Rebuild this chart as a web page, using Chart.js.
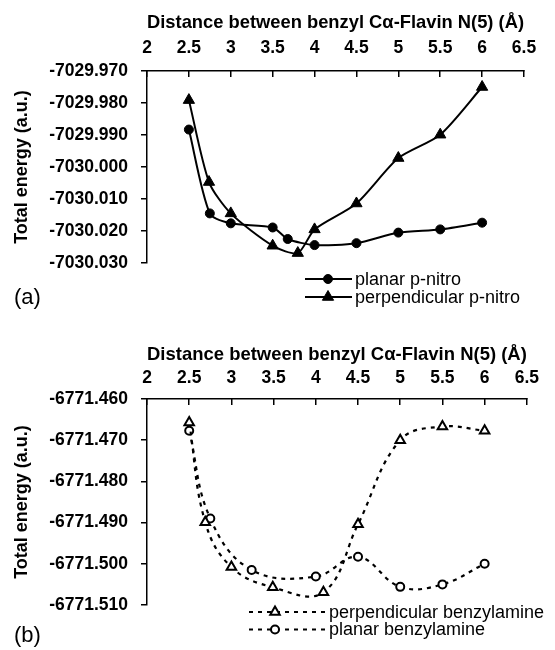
<!DOCTYPE html>
<html>
<head>
<meta charset="utf-8">
<script src="https://cdn.jsdelivr.net/npm/chart.js@4.4.1/dist/chart.umd.min.js"></script>
<style>
  body { margin: 0; background: #fff; }
  .wrap { position: absolute; left: 0; width: 555px; }
  .tag { position: absolute; left: 14px; font: 22px "Liberation Sans", Arial, sans-serif; color: #000; }
</style>
</head>
<body>
<div class="wrap" style="top:0;height:310px"><canvas id="topChart"></canvas></div>
<div class="wrap" style="top:310px;height:340px"><canvas id="bottomChart"></canvas></div>
<div class="tag" style="top:284px">(a)</div>
<div class="tag" style="top:622px">(b)</div>
<script>
// x axis ticks (distance, Å)
const xTicks = [2, 2.5, 3, 3.5, 4, 4.5, 5, 5.5, 6, 6.5];

// (a) p-nitro
const yTicksA = [-7029.97, -7029.98, -7029.99, -7030.0, -7030.01, -7030.02, -7030.03];
const distPlanarNitro = [2.5, 2.75, 3.0, 3.5, 3.68, 4.0, 4.5, 5.0, 5.5, 6.0];
const energyPlanarNitro = [-7029.9883, -7030.0145, -7030.0176, -7030.0189, -7030.0225, -7030.0244, -7030.0238, -7030.0205, -7030.0195, -7030.0174];
const distPerpNitro = [2.5, 2.74, 3.0, 3.5, 3.8, 4.0, 4.5, 5.0, 5.5, 6.0];
const energyPerpNitro = [-7029.9791, -7030.0047, -7030.0145, -7030.0246, -7030.0269, -7030.0195, -7030.0114, -7029.9972, -7029.9899, -7029.975];

// (b) benzylamine
const yTicksB = [-6771.46, -6771.47, -6771.48, -6771.49, -6771.5, -6771.51];
const distPerpAmine = [2.5, 2.69, 3.0, 3.49, 4.09, 4.5, 5.0, 5.5, 6.0];
const energyPerpAmine = [-6771.4657, -6771.4899, -6771.5008, -6771.5057, -6771.5069, -6771.4904, -6771.47, -6771.4667, -6771.4677];
const distPlanarAmine = [2.5, 2.75, 3.24, 4.0, 4.5, 5.0, 5.5, 6.0];
const energyPlanarAmine = [-6771.4677, -6771.489, -6771.5015, -6771.5031, -6771.4983, -6771.5056, -6771.505, -6771.5];

const FAMILY = '"Liberation Sans", Arial, Helvetica, sans-serif';
const xTitle = 'Distance between benzyl C\u03B1-Flavin N(5) (\u00C5)';
const yTitle = 'Total energy (a.u.)';

const pts = (xs, ys) => xs.map((x, i) => ({ x: x, y: ys[i] }));

// legend drawn under the plot, line + marker + label
const cornerLegend = {
  id: 'cornerLegend',
  afterDraw(chart, args, o) {
    const ctx = chart.ctx;
    ctx.save();
    chart.data.datasets.forEach((ds, i) => {
      const y = o.y + i * o.dy;
      ctx.strokeStyle = '#000';
      ctx.lineWidth = ds.borderWidth;
      ctx.setLineDash(ds.borderDash || []);
      ctx.beginPath();
      ctx.moveTo(o.x0, y);
      ctx.lineTo(o.x1, y);
      ctx.stroke();
      ctx.setLineDash([]);
      drawMarker(ctx, ds.pointStyle, o.xm, y, ds.pointRadius, ds.pointBackgroundColor, ds.pointBorderWidth);
      ctx.fillStyle = '#000';
      ctx.font = '18px ' + FAMILY;
      ctx.textBaseline = 'middle';
      ctx.textAlign = 'left';
      ctx.fillText(ds.label, o.xText, y + 1);
    });
    ctx.restore();
  }
};

function drawMarker(ctx, style, x, y, r, fill, bw) {
  ctx.beginPath();
  if (style === 'triangle') {
    let rad = 0;
    ctx.moveTo(x + Math.sin(rad) * r, y - Math.cos(rad) * r);
    rad += 2 * Math.PI / 3;
    ctx.lineTo(x + Math.sin(rad) * r, y - Math.cos(rad) * r);
    rad += 2 * Math.PI / 3;
    ctx.lineTo(x + Math.sin(rad) * r, y - Math.cos(rad) * r);
    ctx.closePath();
  } else {
    ctx.arc(x, y, r, 0, Math.PI * 2);
  }
  ctx.fillStyle = fill;
  ctx.fill();
  ctx.lineWidth = bw;
  ctx.strokeStyle = '#000';
  ctx.stroke();
}

function makeOptions(c) {
  return {
    responsive: true,
    maintainAspectRatio: false,
    animation: false,
    layout: { padding: { left: 0, top: 0, right: c.padRight, bottom: c.padBottom } },
    plugins: {
      legend: { display: false },
      tooltip: { enabled: false },
      cornerLegend: c.legend
    },
    scales: {
      x: {
        type: 'linear', position: 'top', min: 2, max: 6.5,
        afterBuildTicks: s => { s.ticks = xTicks.map(v => ({ value: v })); },
        grid: { drawOnChartArea: false, drawTicks: true, tickLength: -6, color: '#000', lineWidth: 1.5 },
        border: { display: true, color: '#000', width: 1.5 },
        ticks: { color: '#000', font: { family: FAMILY, size: 17.5, weight: 'bold' }, padding: c.xTickPad, maxRotation: 0, autoSkip: false, callback: v => String(v) },
        title: { display: true, text: xTitle, color: '#000', font: { family: FAMILY, size: 18.6, weight: 'bold' }, padding: { top: c.xTitlePad, bottom: 0 } },
        afterFit: s => { s.height = c.axisTop; }
      },
      y: {
        type: 'linear', min: c.yTicks[c.yTicks.length - 1], max: c.yTicks[0],
        afterBuildTicks: s => { s.ticks = c.yTicks.map(v => ({ value: v })); },
        grid: { drawOnChartArea: false, drawTicks: true, tickLength: 6, color: '#000', lineWidth: 1.5 },
        border: { display: true, color: '#000', width: 1.5 },
        ticks: { color: '#000', font: { family: FAMILY, size: 17.5, weight: 'bold' }, padding: 13, callback: v => v.toFixed(3) },
        title: { display: true, text: yTitle, color: '#000', font: { family: FAMILY, size: 18, weight: 'bold' }, padding: { top: 11, bottom: 0 } },
        afterFit: s => { s.width = 147; }
      }
    }
  };
}

new Chart(document.getElementById('topChart'), {
  type: 'line',
  data: {
    datasets: [
      {
        label: 'planar p-nitro',
        data: pts(distPlanarNitro, energyPlanarNitro),
        borderColor: '#000', borderWidth: 2, tension: 0.25,
        pointStyle: 'circle', pointRadius: 4.5, pointBackgroundColor: '#000', pointBorderColor: '#000', pointBorderWidth: 1
      },
      {
        label: 'perpendicular p-nitro',
        data: pts(distPerpNitro, energyPerpNitro),
        borderColor: '#000', borderWidth: 2, tension: 0.25,
        pointStyle: 'triangle', pointRadius: 6.5, pointBackgroundColor: '#000', pointBorderColor: '#000', pointBorderWidth: 1
      }
    ]
  },
  options: makeOptions({
    padRight: 31, padBottom: 47, axisTop: 71, xTickPad: 18, xTitlePad: 12, yTicks: yTicksA,
    legend: { x0: 305, x1: 352, xm: 328, xText: 355, y: 279, dy: 18 }
  }),
  plugins: [cornerLegend]
});

new Chart(document.getElementById('bottomChart'), {
  type: 'line',
  data: {
    datasets: [
      {
        label: 'perpendicular benzylamine',
        data: pts(distPerpAmine, energyPerpAmine),
        borderColor: '#000', borderWidth: 2.2, borderDash: [4, 5], tension: 0.4,
        pointStyle: 'triangle', pointRadius: 5.5, pointBackgroundColor: '#fff', pointBorderColor: '#000', pointBorderWidth: 2
      },
      {
        label: 'planar benzylamine',
        data: pts(distPlanarAmine, energyPlanarAmine),
        borderColor: '#000', borderWidth: 2.2, borderDash: [4, 5], tension: 0.4,
        pointStyle: 'circle', pointRadius: 4, pointBackgroundColor: '#fff', pointBorderColor: '#000', pointBorderWidth: 2
      }
    ]
  },
  options: makeOptions({
    padRight: 16, padBottom: 45, axisTop: 89, xTickPad: 16, xTitlePad: 34, yTicks: yTicksB,
    legend: { x0: 249, x1: 327, xm: 275, xText: 329, y: 302, dy: 17.5 }
  }),
  plugins: [cornerLegend]
});
</script>
</body>
</html>
